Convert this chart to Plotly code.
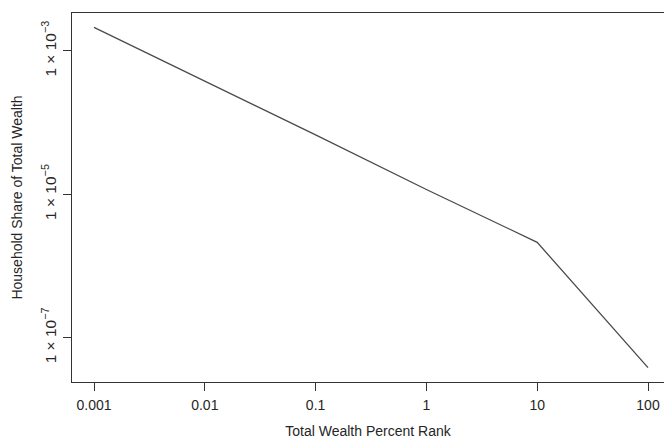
import plotly.graph_objects as go

# Data (log-log)
percent_rank = [0.001, 0.01, 0.1, 1, 10, 100]
household_share = [2.13e-3, 3.80e-4, 6.76e-5, 1.17e-5, 2.14e-6, 3.82e-8]

x_tickvals = [0.001, 0.01, 0.1, 1, 10, 100]
x_ticktext = ["0.001", "0.01", "0.1", "1", "10", "100"]
y_tickvals = [1e-3, 1e-5, 1e-7]
y_ticktext = ["1 × 10<sup>−3</sup>", "1 × 10<sup>−5</sup>", "1 × 10<sup>−7</sup>"]

fig = go.Figure()
fig.add_trace(go.Scatter(
    x=percent_rank, y=household_share, mode="lines",
    line=dict(color="#4a4a4a", width=1.3), showlegend=False,
))

font = dict(family="Liberation Sans, Arial, sans-serif", size=14, color="#262626")

fig.update_layout(
    width=664, height=441,
    margin=dict(l=72, r=0, t=13, b=59, autoexpand=False),
    paper_bgcolor="white", plot_bgcolor="white",
    font=font,
    hovermode=False,
    xaxis=dict(
        type="log", range=[-3.1986, 2.1444],
        tickvals=x_tickvals, ticktext=x_ticktext,
        ticks="outside", ticklen=8, tickcolor="#333", tickwidth=1,
        showline=True, linecolor="#333", linewidth=1, mirror=True,
        showgrid=False, zeroline=False, automargin=False,
        tickfont=dict(size=14, color="#262626"), ticklabelstandoff=2,
        title=dict(text="Total Wealth Percent Rank", font=dict(size=14, color="#262626"), standoff=14),
    ),
    yaxis=dict(
        type="log", range=[-7.618, -2.47],
        tickvals=y_tickvals, ticktext=y_ticktext, tickangle=-90,
        ticks="outside", ticklen=8, tickcolor="#333", tickwidth=1,
        showline=True, linecolor="#333", linewidth=1, mirror=False,
        showgrid=False, zeroline=False, automargin=False,
        tickfont=dict(size=15.5, color="#262626"), ticklabelstandoff=1,
        title=dict(text="Household Share of Total Wealth", font=dict(size=14, color="#262626"), standoff=13),
    ),
)

fig.write_html(
    "out.html",
    config={"displayModeBar": False, "staticPlot": True},
    post_script="document.body.style.margin='0';document.body.style.overflow='hidden';",
)
